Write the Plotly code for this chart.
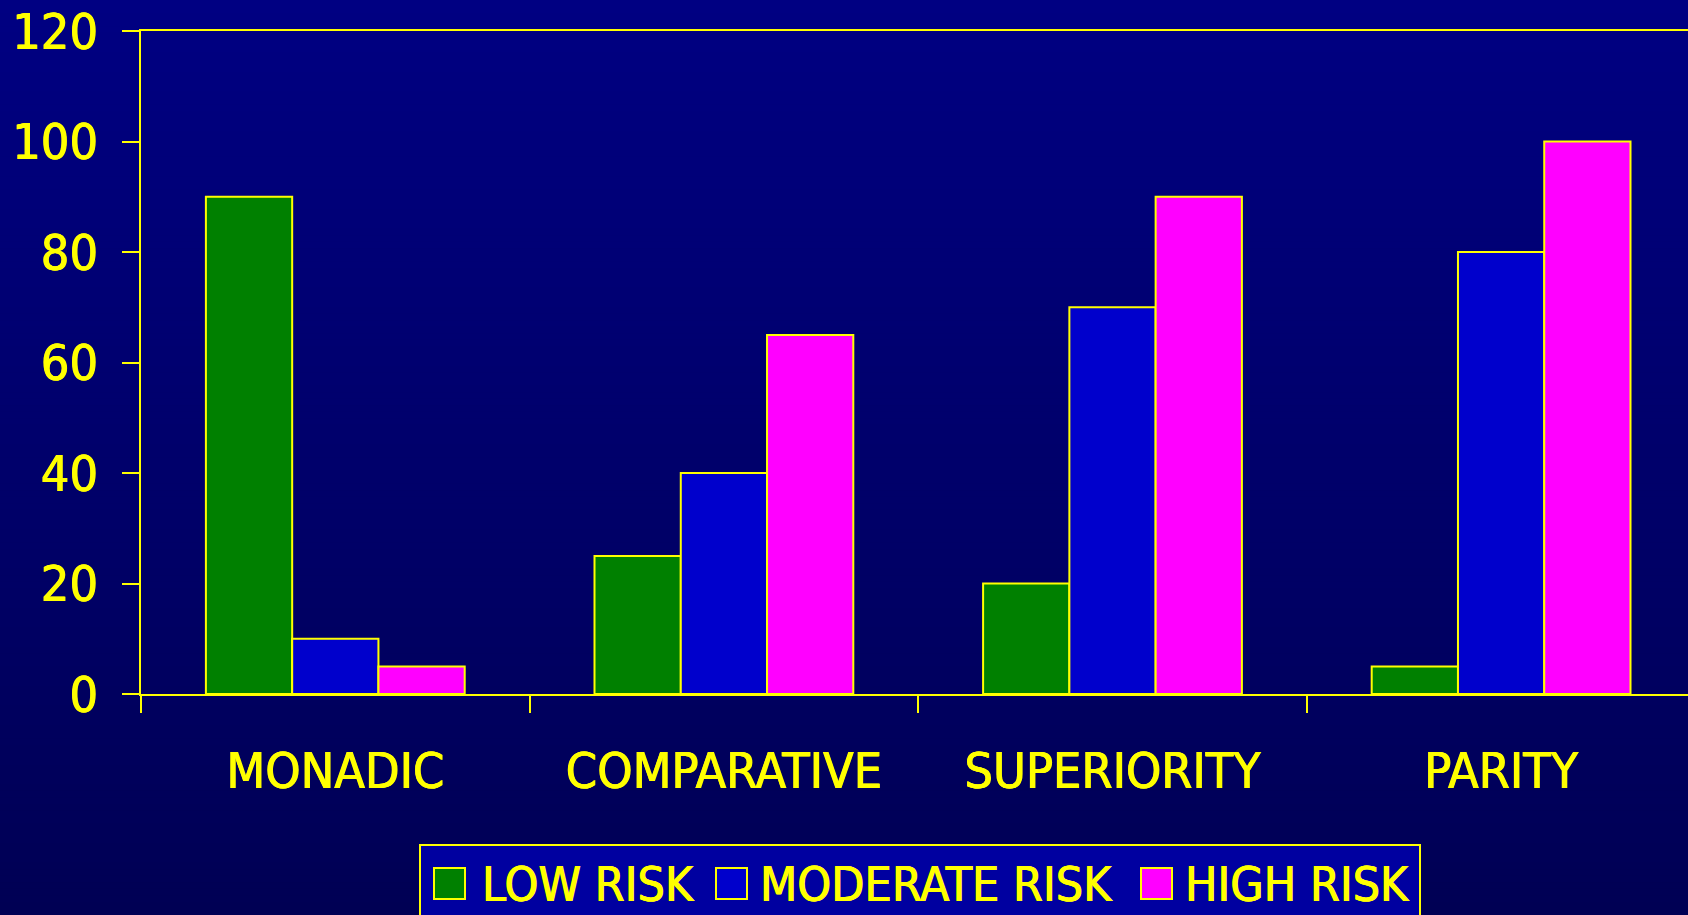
import plotly.graph_objects as go

# Chart data
categories = ["MONADIC", "COMPARATIVE", "SUPERIORITY", "PARITY"]
series_names = ["LOW RISK", "MODERATE RISK", "HIGH RISK"]
low_risk = [90, 25, 20, 5]
moderate_risk = [10, 40, 70, 80]
high_risk = [5, 65, 90, 100]
y_ticks = [0, 20, 40, 60, 80, 100, 120]

# Styling
W, H = 1688, 915
M_L, M_T, M_R, M_B = 141, 31, 0, 221
PLOT_W = W - M_L - M_R
PLOT_H = H - M_T - M_B
YELLOW = "#FFFF00"
FONT = "DejaVu Sans Condensed, DejaVu Sans, sans-serif"
HEAVY = "0.6px 0 0 #FFFF00, -0.4px 0 0 #FFFF00"  # slightly heavier strokes
bar_colors = ["#008000", "#0000CC", "#FF00FF"]
CAT_W = 388.6  # pixel width of one category slot


def px_x(px):
    """Convert a page x pixel into paper coordinates."""
    return (px - M_L) / PLOT_W


def px_y(py):
    """Convert a page y pixel into paper coordinates."""
    return (H - M_B - py) / PLOT_H


def text_font(size):
    return dict(family=FONT, size=size, color=YELLOW, shadow=HEAVY)


fig = go.Figure()
for name, vals, col in zip(series_names, [low_risk, moderate_risk, high_risk], bar_colors):
    fig.add_trace(go.Bar(
        x=categories, y=vals, name=name,
        marker=dict(color=col, line=dict(color=YELLOW, width=2)),
        showlegend=False,
    ))

# Vertical background gradient made of thin bands
shapes = []
n_bands = 140
top_c, bot_c = 130, 84
for i in range(n_bands):
    p0 = H * i / n_bands
    p1 = H * (i + 1) / n_bands + 1
    b = round(top_c + (bot_c - top_c) * (i + 0.5) / n_bands)
    shapes.append(dict(
        type="rect", xref="paper", yref="paper",
        x0=px_x(-2), x1=px_x(W + 2), y0=px_y(p1), y1=px_y(p0),
        fillcolor=f"rgb(0,0,{b})", line=dict(width=0), layer="below",
    ))

# Legend box
shapes.append(dict(
    type="rect", xref="paper", yref="paper",
    x0=px_x(420), x1=px_x(1420), y0=px_y(930), y1=px_y(845),
    fillcolor="#0000A0", line=dict(color=YELLOW, width=2), layer="above",
))

annotations = []
legend_items = [(434, 482), (716, 760), (1141, 1185)]
for (sw_x, tx_x), name, col in zip(legend_items, series_names, bar_colors):
    shapes.append(dict(
        type="rect", xref="paper", yref="paper",
        x0=px_x(sw_x), x1=px_x(sw_x + 31), y0=px_y(899), y1=px_y(868),
        fillcolor=col, line=dict(color=YELLOW, width=2), layer="above",
    ))
    annotations.append(dict(
        xref="paper", yref="paper", x=px_x(tx_x - 2), y=px_y(884),
        xanchor="left", yanchor="middle", showarrow=False,
        text=name, font=text_font(48),
    ))

fig.update_layout(
    width=W, height=H,
    margin=dict(l=M_L, r=M_R, t=M_T, b=M_B, pad=0),
    paper_bgcolor="#000070",
    plot_bgcolor="rgba(0,0,0,0)",
    barmode="group", bargap=0.334, bargroupgap=0,
    shapes=shapes, annotations=annotations,
    font=dict(family=FONT, color=YELLOW),
)

fig.update_xaxes(
    range=[-0.5, -0.5 + PLOT_W / CAT_W],
    showline=True, linecolor=YELLOW, linewidth=2, mirror=True,
    ticks="outside", tickson="boundaries", ticklen=17, tickwidth=2, tickcolor=YELLOW,
    showgrid=False, zeroline=False,
    tickfont=text_font(50),
    ticklabelstandoff=32,
)
fig.update_yaxes(
    range=[0, 120], tickvals=y_ticks,
    showline=True, linecolor=YELLOW, linewidth=2,
    ticks="outside", ticklen=17, tickwidth=2, tickcolor=YELLOW,
    showgrid=False, zeroline=False,
    tickfont=text_font(50),
    ticklabelstandoff=14,
)

fig.write_html("out.html")
